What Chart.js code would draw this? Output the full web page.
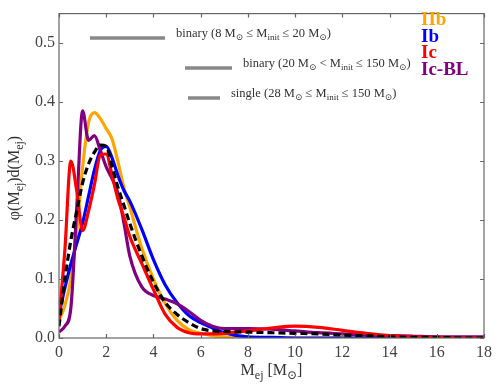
<!DOCTYPE html>
<html>
<head>
<meta charset="utf-8">
<script src="https://cdn.jsdelivr.net/npm/chart.js@4/dist/chart.umd.min.js"></script>
<style>
  html, body { margin:0; padding:0; background:#fff; }
  #wrap { width:500px; height:389px; }
</style>
</head>
<body>
<div id="wrap"><canvas id="chartMej" width="500" height="389"></canvas></div>
<script>
// ==================== Datos ====================
const mej   = [0, 0.25, 0.5, 0.75, 1, 1.25, 1.5, 1.75, 2, 2.25, 2.5, 2.75, 3, 3.5, 4, 4.5, 5, 5.5, 6, 6.5, 7, 8, 9, 10, 11, 12, 13, 14, 15, 16, 17, 18];
const phiIIb  = [0.03, 0.055, 0.10, 0.18, 0.29, 0.365, 0.382, 0.372, 0.355, 0.337, 0.298, 0.255, 0.222, 0.153, 0.10, 0.058, 0.03, 0.014, 0.008, 0.004, 0.002, 0, 0, 0, 0, 0, 0, 0, 0, 0, 0, 0];
const phiIb   = [0.04, 0.085, 0.125, 0.16, 0.195, 0.24, 0.285, 0.318, 0.325, 0.305, 0.275, 0.25, 0.232, 0.185, 0.133, 0.09, 0.06, 0.038, 0.026, 0.017, 0.009, 0.002, 0.001, 0, 0, 0, 0, 0, 0, 0, 0, 0];
const phiIc   = [0.03, 0.15, 0.30, 0.25, 0.182, 0.215, 0.26, 0.31, 0.312, 0.275, 0.235, 0.205, 0.172, 0.127, 0.082, 0.04, 0.018, 0.009, 0.007, 0.007, 0.008, 0.012, 0.017, 0.02, 0.018, 0.013, 0.008, 0.004, 0.002, 0.001, 0, 0];
const phiIcBL = [0.01, 0.02, 0.05, 0.22, 0.385, 0.335, 0.343, 0.318, 0.29, 0.27, 0.245, 0.195, 0.139, 0.087, 0.072, 0.066, 0.058, 0.045, 0.03, 0.02, 0.016, 0.016, 0.015, 0.012, 0.009, 0.007, 0.005, 0.004, 0.003, 0.002, 0.002, 0.002];
const phiAll  = [0.02, 0.10, 0.165, 0.215, 0.263, 0.295, 0.315, 0.327, 0.325, 0.29, 0.255, 0.225, 0.194, 0.14, 0.095, 0.06, 0.04, 0.026, 0.016, 0.012, 0.011, 0.01, 0.009, 0.008, 0.007, 0.005, 0.004, 0.002, 0.001, 0.001, 0, 0];

const tiposSN = ["IIb", "Ib", "Ic", "Ic-BL"];
const colores = ["#ffa500", "#0000ff", "#ff0000", "#800080"];
const xTicks = [0, 2, 4, 6, 8, 10, 12, 14, 16, 18];
const yTicks = [0, 0.1, 0.2, 0.3, 0.4, 0.5];

// notas de los segmentos grises (partes: [texto, subindice?])
const notas = [
  [["binary (8 M", 0], ["\u2299", 1], [" \u2264 M", 0], ["init", 1], [" \u2264 20 M", 0], ["\u2299", 1], [")", 0]],
  [["binary (20 M", 0], ["\u2299", 1], [" < M", 0], ["init", 1], [" \u2264 150 M", 0], ["\u2299", 1], [")", 0]],
  [["single (28 M", 0], ["\u2299", 1], [" \u2264 M", 0], ["init", 1], [" \u2264 150 M", 0], ["\u2299", 1], [")", 0]]
];

const SERIF = "'Liberation Serif', 'DejaVu Serif', serif";

function pts(ys){ return mej.map((x, i) => ({ x, y: ys[i] })); }

// texto con subindices
function drawRich(ctx, parts, x, y, size, color){
  ctx.fillStyle = color;
  ctx.textBaseline = "alphabetic";
  ctx.textAlign = "left";
  let cx = x;
  for (const [t, sub] of parts){
    const fs = sub ? Math.round(size * 0.72) : size;
    ctx.font = fs + "px " + SERIF;
    ctx.fillText(t, cx, sub ? y + size * 0.25 : y);
    cx += ctx.measureText(t).width;
  }
  return cx - x;
}
function richWidth(ctx, parts, size){
  let w = 0;
  for (const [t, sub] of parts){
    ctx.font = (sub ? Math.round(size * 0.72) : size) + "px " + SERIF;
    w += ctx.measureText(t).width;
  }
  return w;
}

// ==================== Plugin: marco, ticks internos, textos ====================
const decoPlugin = {
  id: "deco",
  afterDraw(chart){
    const { ctx, chartArea: a, scales } = chart;
    ctx.save();
    // marco
    ctx.strokeStyle = "#666";
    ctx.lineWidth = 1.2;
    ctx.strokeRect(a.left, a.top, a.right - a.left, a.bottom - a.top);
    // ticks hacia dentro
    ctx.beginPath();
    for (const v of xTicks){
      const px = Math.round(scales.x.getPixelForValue(v)) + 0.5;
      ctx.moveTo(px, a.bottom); ctx.lineTo(px, a.bottom - 4);
      ctx.moveTo(px, a.top);    ctx.lineTo(px, a.top + 4);
    }
    for (const v of yTicks){
      const py = Math.round(scales.y.getPixelForValue(v)) + 0.5;
      ctx.moveTo(a.left, py);  ctx.lineTo(a.left + 4, py);
      ctx.moveTo(a.right, py); ctx.lineTo(a.right - 4, py);
    }
    ctx.stroke();

    // leyenda de tipos
    ctx.font = "bold 19px " + SERIF;
    ctx.textAlign = "left";
    ctx.textBaseline = "alphabetic";
    tiposSN.forEach((t, i) => {
      ctx.fillStyle = colores[i];
      ctx.fillText(t, 421, 25 + i * 16.7);
    });

    // segmentos grises + notas
    const segs = [[90, 165, 38, 176], [185, 232, 68, 243], [188, 220, 98, 231]];
    ctx.strokeStyle = "#888";
    ctx.lineWidth = 3.5;
    segs.forEach(([x0, x1, y, tx], i) => {
      ctx.beginPath(); ctx.moveTo(x0, y); ctx.lineTo(x1, y); ctx.stroke();
      drawRich(ctx, notas[i], tx, y - 1, 12.5, "#333");
    });

    // titulo eje x
    const xt = [["M", 0], ["ej", 1], [" [M", 0], ["\u2299", 1], ["]", 0]];
    const xw = richWidth(ctx, xt, 16);
    drawRich(ctx, xt, (a.left + a.right) / 2 - xw / 2, 375, 16, "#333");

    // titulo eje y
    const yt = [["\u03c6(M", 0], ["ej", 1], [")d(M", 0], ["ej", 1], [")", 0]];
    const yw = richWidth(ctx, yt, 16);
    ctx.translate(19, 178);
    ctx.rotate(-Math.PI / 2);
    drawRich(ctx, yt, -yw / 2, 0, 16, "#333");
    ctx.restore();
  }
};

// ==================== Grafica ====================
const series = [
  { label: "todos", data: pts(phiAll), borderColor: "#000", borderDash: [7, 4], borderWidth: 3.2 },
  { label: "Ic",    data: pts(phiIc),   borderColor: colores[2], borderWidth: 3.2 },
  { label: "Ic-BL", data: pts(phiIcBL), borderColor: colores[3], borderWidth: 3.2 },
  { label: "Ib",    data: pts(phiIb),   borderColor: colores[1], borderWidth: 3.2 },
  { label: "IIb",   data: pts(phiIIb),  borderColor: colores[0], borderWidth: 3.2 }
].map(d => Object.assign(d, { pointRadius: 0, fill: false, cubicInterpolationMode: "monotone", showLine: true }));

new Chart(document.getElementById("chartMej").getContext("2d"), {
  type: "scatter",
  data: { datasets: series },
  plugins: [decoPlugin],
  options: {
    responsive: false,
    animation: false,
    layout: { padding: { top: 8, right: 16, left: 0, bottom: 0 } },
    plugins: { legend: { display: false }, tooltip: { enabled: false } },
    scales: {
      x: {
        type: "linear", min: 0, max: 18,
        afterBuildTicks: s => { s.ticks = xTicks.map(v => ({ value: v })); },
        afterFit: s => { s.height = 51; },
        grid: { display: false, drawTicks: false },
        border: { display: false },
        ticks: { color: "#444", padding: 5, font: { family: SERIF, size: 16 }, maxRotation: 0,
                 callback: v => String(v) }
      },
      y: {
        type: "linear", min: 0, max: 0.55,
        afterBuildTicks: s => { s.ticks = yTicks.map(v => ({ value: v })); },
        afterFit: s => { s.width = 59; },
        grid: { display: false, drawTicks: false },
        border: { display: false },
        ticks: { color: "#444", padding: 4, font: { family: SERIF, size: 16 },
                 callback: v => Number(v).toFixed(1) }
      }
    }
  }
});
</script>
</body>
</html>
